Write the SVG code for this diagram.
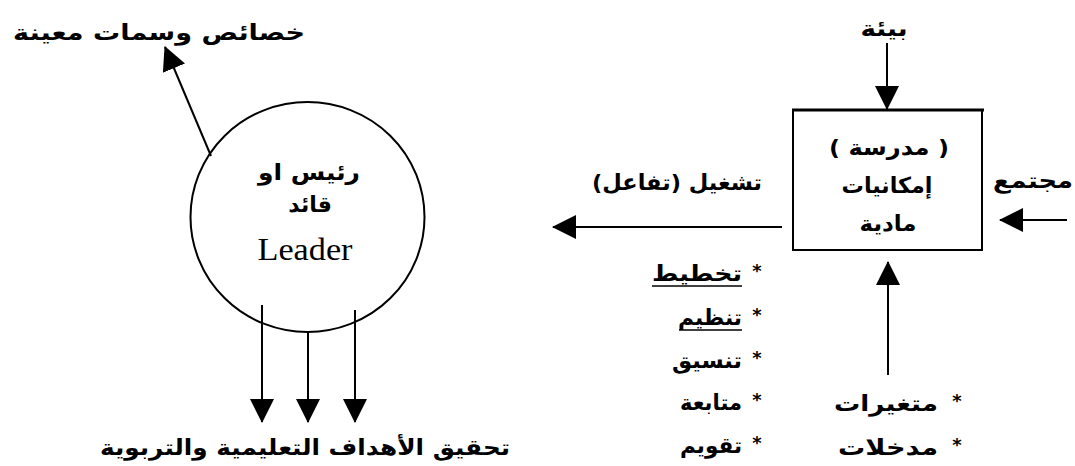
<svg xmlns="http://www.w3.org/2000/svg" width="1075" height="466" viewBox="0 0 1075 466">
  <style>
    .ar { font-family: "DejaVu Sans", "Noto Sans", sans-serif; font-weight: bold; font-size: 22px; fill: #000; }
    .star { font-family: "DejaVu Sans", sans-serif; font-weight: bold; font-size: 18px; fill: #000; }
    .en { font-family: "Liberation Serif", "Times New Roman", serif; font-size: 31px; fill: #000; }
    .shape { fill: #fff; stroke: #000; stroke-width: 2; }
    .link { fill: none; stroke: #000; stroke-width: 2; }
    .ul { stroke: #000; stroke-width: 1.5; }
  </style>
  <defs>
    <marker id="head" markerUnits="userSpaceOnUse" markerWidth="24" markerHeight="24" refX="23" refY="12" orient="auto">
      <path d="M0,0 L24,12 L0,24 z" fill="#000"/>
    </marker>
  </defs>
  <rect width="1075" height="466" fill="#fff"/>

  <!-- leader circle -->
  <g id="leader">
    <ellipse class="shape" cx="307.5" cy="217" rx="117" ry="115"/>
    <text class="ar" x="309" y="172" text-anchor="middle" dominant-baseline="central" textLength="102" lengthAdjust="spacingAndGlyphs">رئيس او</text>
    <text class="ar" x="310" y="204" text-anchor="middle" dominant-baseline="central">قائد</text>
    <text class="en" x="305" y="260" text-anchor="middle" textLength="95" lengthAdjust="spacingAndGlyphs">Leader</text>
  </g>

  <!-- traits label -->
  <g id="traits">
    <text class="ar" x="159" y="32" text-anchor="middle" dominant-baseline="central" textLength="292" lengthAdjust="spacingAndGlyphs">خصائص وسمات معينة</text>
  </g>

  <!-- goals label -->
  <g id="goals">
    <text class="ar" x="305" y="447" text-anchor="middle" dominant-baseline="central" textLength="410" lengthAdjust="spacingAndGlyphs">تحقيق الأهداف التعليمية والتربوية</text>
  </g>

  <!-- school box -->
  <g id="school">
    <rect class="shape" x="793" y="110" width="189" height="140"/>
    <line x1="792" y1="110" x2="984" y2="110" stroke="#000" stroke-width="3"/>
    <text class="ar" x="889" y="147" text-anchor="middle" dominant-baseline="central" textLength="120" lengthAdjust="spacingAndGlyphs">( مدرسة )</text>
    <text class="ar" x="887" y="185" text-anchor="middle" dominant-baseline="central" textLength="91" lengthAdjust="spacingAndGlyphs">إمكانيات</text>
    <text class="ar" x="888" y="223" text-anchor="middle" dominant-baseline="central" textLength="57" lengthAdjust="spacingAndGlyphs">مادية</text>
  </g>

  <!-- environment label -->
  <g id="environment">
    <text class="ar" x="884" y="28" text-anchor="middle" dominant-baseline="central" textLength="47" lengthAdjust="spacingAndGlyphs">بيئة</text>
  </g>

  <!-- community label -->
  <g id="community">
    <text class="ar" x="1033" y="180" text-anchor="middle" dominant-baseline="central" textLength="80" lengthAdjust="spacingAndGlyphs">مجتمع</text>
  </g>

  <!-- operation label -->
  <g id="operation">
    <text class="ar" x="677" y="182" text-anchor="middle" dominant-baseline="central" textLength="170" lengthAdjust="spacingAndGlyphs">تشغيل (تفاعل)</text>
  </g>

  <!-- management functions list -->
  <g id="functions">
    <text class="star" x="757" y="270" text-anchor="middle" dominant-baseline="central">*</text>
    <text class="ar" x="742" y="273" text-anchor="end" dominant-baseline="central" textLength="90" lengthAdjust="spacingAndGlyphs">تخطيط</text>
    <line class="ul" x1="652" y1="286" x2="742" y2="286"/>
    <text class="star" x="757" y="314" text-anchor="middle" dominant-baseline="central">*</text>
    <text class="ar" x="742" y="317" text-anchor="end" dominant-baseline="central" textLength="64" lengthAdjust="spacingAndGlyphs">تنظيم</text>
    <line class="ul" x1="679" y1="330" x2="742" y2="330"/>
    <text class="star" x="757" y="357" text-anchor="middle" dominant-baseline="central">*</text>
    <text class="ar" x="742" y="360" text-anchor="end" dominant-baseline="central" textLength="70" lengthAdjust="spacingAndGlyphs">تنسيق</text>
    <text class="star" x="757" y="399" text-anchor="middle" dominant-baseline="central">*</text>
    <text class="ar" x="742" y="402" text-anchor="end" dominant-baseline="central" textLength="62" lengthAdjust="spacingAndGlyphs">متابعة</text>
    <text class="star" x="757" y="442" text-anchor="middle" dominant-baseline="central">*</text>
    <text class="ar" x="742" y="445" text-anchor="end" dominant-baseline="central" textLength="62" lengthAdjust="spacingAndGlyphs">تقويم</text>
  </g>

  <!-- inputs list -->
  <g id="inputs">
    <text class="star" x="957" y="400" text-anchor="middle" dominant-baseline="central">*</text>
    <text class="ar" x="938" y="403" text-anchor="end" dominant-baseline="central" textLength="104" lengthAdjust="spacingAndGlyphs">متغيرات</text>
    <text class="star" x="957" y="444" text-anchor="middle" dominant-baseline="central">*</text>
    <text class="ar" x="938" y="447" text-anchor="end" dominant-baseline="central" textLength="100" lengthAdjust="spacingAndGlyphs">مدخلات</text>
  </g>

  <!-- connectors -->
  <g id="connectors">
    <line class="link" x1="211" y1="156" x2="165" y2="47" marker-end="url(#head)"/>
    <line class="link" x1="262" y1="305" x2="262" y2="422" marker-end="url(#head)"/>
    <line class="link" x1="308" y1="333" x2="308" y2="422" marker-end="url(#head)"/>
    <line class="link" x1="355" y1="310" x2="355" y2="422" marker-end="url(#head)"/>
    <line class="link" x1="887" y1="43" x2="887" y2="109" marker-end="url(#head)"/>
    <line class="link" x1="1067" y1="220" x2="1000" y2="220" marker-end="url(#head)"/>
    <line class="link" x1="782" y1="227" x2="553" y2="227" marker-end="url(#head)"/>
    <line class="link" x1="888" y1="375" x2="888" y2="262" marker-end="url(#head)"/>
  </g>
</svg>
